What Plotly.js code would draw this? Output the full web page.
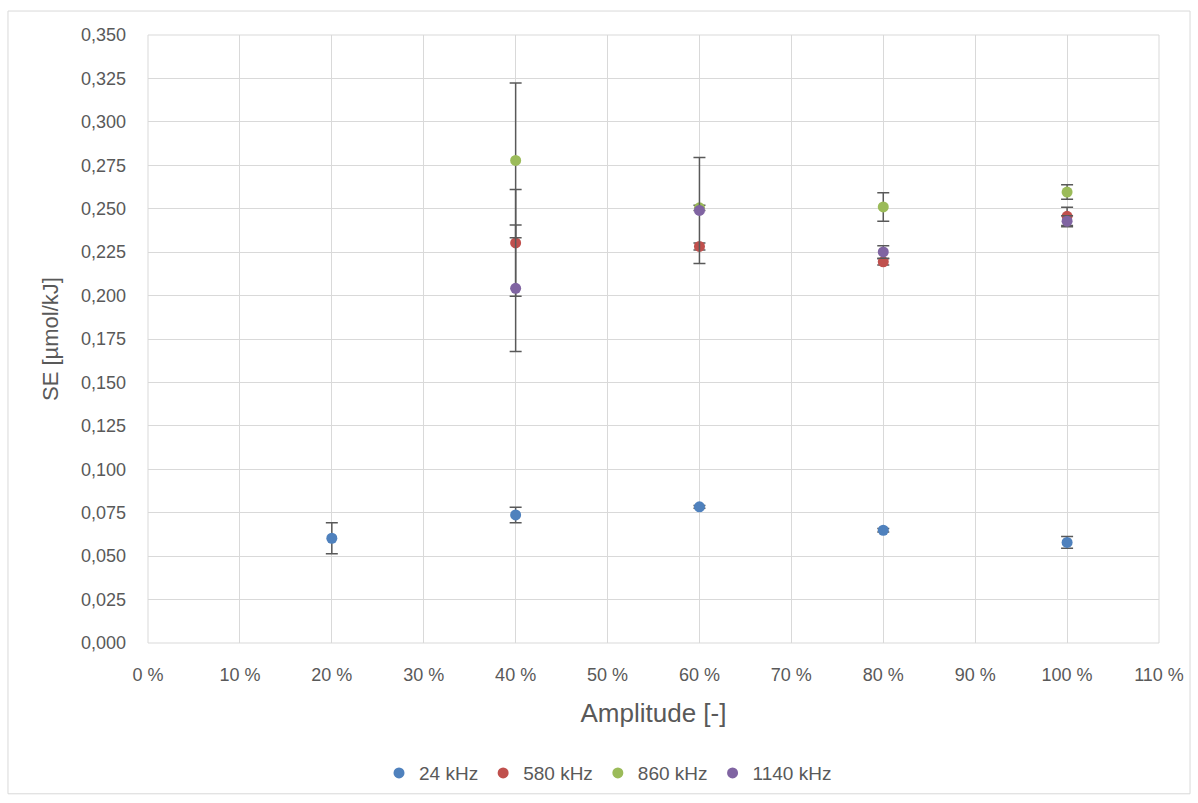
<!DOCTYPE html>
<html>
<head>
<meta charset="utf-8">
<script src="https://cdn.plot.ly/plotly-3.0.1.min.js"></script>
<style>html,body{margin:0;padding:0;background:#fff;}#chart{width:1198px;height:803px;}</style>
</head>
<body>
<div id="chart"></div>
<script>
const amplitudes = [20, 40, 60, 80, 100];
const seriesNames = ["24 kHz", "580 kHz", "860 kHz", "1140 kHz"];
const se24 = [0.0603, 0.0737, 0.0784, 0.0649, 0.0579];
const err24 = [0.0089, 0.0045, 0.0008, 0.0010, 0.0034];
const se580 = [null, 0.2303, 0.2283, 0.2194, 0.2456];
const err580 = [0, 0.0307, 0.0020, 0.0018, 0.0052];
const se860 = [null, 0.2778, 0.2505, 0.2510, 0.2596];
const err860 = [0, 0.0445, 0.0015, 0.0082, 0.0042];
const se1140 = [null, 0.2042, 0.2490, 0.2251, 0.2428];
const err1140 = [0, 0.0364, 0.0305, 0.0036, 0.0032];
const xTickVals = [0, 10, 20, 30, 40, 50, 60, 70, 80, 90, 100, 110];
const xTickText = ["0 %", "10 %", "20 %", "30 %", "40 %", "50 %", "60 %", "70 %", "80 %", "90 %", "100 %", "110 %"];
const colors = ["#4F81BD", "#C0504D", "#9BBB59", "#8064A2"];

const ys = [se24, se580, se860, se1140];
const errs = [err24, err580, err860, err1140];
const traces = seriesNames.map((n, i) => ({
  type: "scatter",
  mode: "markers",
  name: n,
  x: amplitudes,
  y: ys[i],
  marker: {color: colors[i], size: 11},
  error_y: {type: "data", array: errs[i], visible: true, color: "#595959", thickness: 1.5, width: 6}
}));

const font = "Liberation Sans, Arial, sans-serif";
const layout = {
  width: 1198, height: 803,
  paper_bgcolor: "#fff", plot_bgcolor: "#fff",
  separators: ", ",
  margin: {l: 148, r: 39, t: 35, b: 159},
  font: {family: font, color: "#595959", size: 17},
  showlegend: true,
  legend: {orientation: "h", x: 0.455, xanchor: "center", y: -0.212, yanchor: "middle",
           font: {size: 19, color: "#595959"}, itemwidth: 30, traceorder: "normal"},
  xaxis: {
    range: [0, 110], tickvals: xTickVals, ticktext: xTickText,
    showgrid: true, gridcolor: "#d9d9d9", gridwidth: 1,
    zeroline: false, showline: false, ticks: "", ticklabelstandoff: 19,
    tickfont: {size: 18, color: "#595959"},
    title: {text: "Amplitude [-]", font: {size: 26, color: "#595959"}, standoff: 19}
  },
  yaxis: {
    range: [0, 0.35], dtick: 0.025, tick0: 0, tickformat: ".3f",
    showgrid: true, gridcolor: "#d9d9d9", gridwidth: 1,
    zeroline: false, showline: false, ticks: "", ticklabelstandoff: 21,
    tickfont: {size: 18, color: "#595959"},
    title: {text: "SE [µmol/kJ]", font: {size: 22, color: "#595959"}, standoff: 16}
  },
  shapes: [
    {type: "rect", xref: "paper", yref: "paper", x0: -0.1385, x1: 1.0307, y0: -0.248, y1: 1.0394,
     line: {color: "#d9d9d9", width: 1}, fillcolor: "rgba(0,0,0,0)", layer: "below"},
    {type: "rect", xref: "paper", yref: "paper", x0: 0, x1: 1, y0: 0, y1: 1,
     line: {color: "#d9d9d9", width: 1}, fillcolor: "rgba(0,0,0,0)", layer: "below"}
  ]
};
Plotly.newPlot("chart", traces, layout, {displayModeBar: false, staticPlot: true});
</script>
</body>
</html>
